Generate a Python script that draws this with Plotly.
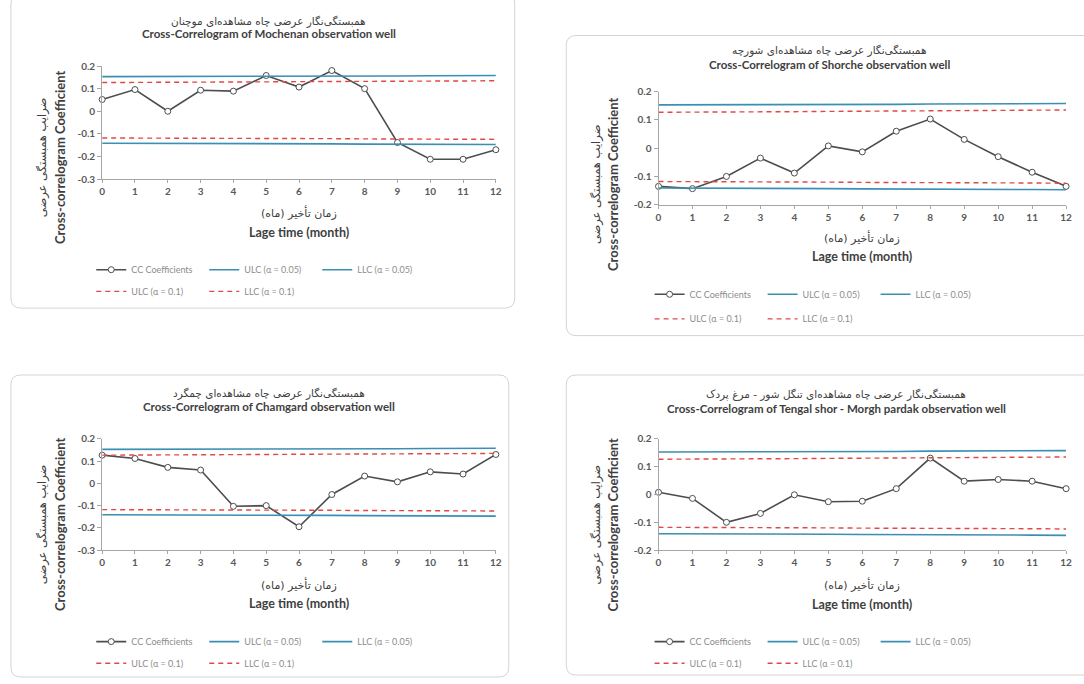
import plotly.graph_objects as go

W, H = 1084, 684

# ---------------- data ----------------
lags = list(range(13))
x_tick_labels = [str(i) for i in lags]

cc_mochenan = [0.052, 0.096, 0.0, 0.093, 0.089, 0.158, 0.107, 0.180, 0.100, -0.138, -0.212, -0.212, -0.170]
cc_shorche = [-0.135, -0.143, -0.100, -0.035, -0.088, 0.008, -0.013, 0.060, 0.103, 0.031, -0.030, -0.085, -0.135]
cc_chamgard = [0.127, 0.112, 0.072, 0.060, -0.103, -0.100, -0.195, -0.050, 0.033, 0.007, 0.052, 0.042, 0.130]
cc_tengal = [0.008, -0.014, -0.100, -0.068, -0.001, -0.026, -0.024, 0.021, 0.131, 0.048, 0.054, 0.048, 0.021]

ulc_005 = [0.153, 0.153, 0.154, 0.154, 0.154, 0.155, 0.155, 0.155, 0.156, 0.156, 0.157, 0.157, 0.158]
llc_005 = [-0.141, -0.141, -0.142, -0.142, -0.143, -0.143, -0.144, -0.144, -0.145, -0.145, -0.146, -0.146, -0.147]
ulc_01 = [0.127, 0.127, 0.128, 0.129, 0.129, 0.130, 0.131, 0.131, 0.132, 0.133, 0.133, 0.134, 0.135]
llc_01 = [-0.118, -0.118, -0.119, -0.119, -0.120, -0.120, -0.121, -0.121, -0.122, -0.122, -0.123, -0.123, -0.124]

yticks_wide = [-0.3, -0.2, -0.1, 0, 0.1, 0.2]
ytext_wide = ["-0.3", "-0.2", "-0.1", "0", "0.1", "0.2"]
yticks_narrow = [-0.2, -0.1, 0, 0.1, 0.2]
ytext_narrow = ["-0.2", "-0.1", "0", "0.1", "0.2"]

series_names = ["CC Coefficients", "ULC (α = 0.05)", "LLC (α = 0.05)", "ULC (α = 0.1)", "LLC (α = 0.1)"]

fa_title_prefix = "همبستگی‌نگار عرضی چاه مشاهده‌ای "
titles_fa = [fa_title_prefix + "موچنان", fa_title_prefix + "شورچه",
             fa_title_prefix + "چمگرد", fa_title_prefix + "تنگل شور - مرغ پردک"]
titles_en = ["Cross-Correlogram of Mochenan observation well",
             "Cross-Correlogram of Shorche observation well",
             "Cross-Correlogram of Chamgard observation well",
             "Cross-Correlogram of Tengal shor - Morgh pardak observation well"]
xtitle_fa = "زمان تأخیر (ماه)"
xtitle_en = "Lage time (month)"
ytitle_fa = "ضرایب همبستگی عرضی"
ytitle_en = "Cross-correlogram Coefficient"

# ---------------- layout geometry (pixels) ----------------
panels = [
    dict(cc=cc_mochenan, yr=[-0.3, 0.2], yt=yticks_wide, ytt=ytext_wide,
         px=(100, 497), py=(61, 176), box=(8, -12, 516, 307),
         tfa=(268, 16), ten=(268, 28), xfa=210, xen=230,
         yfa=40, yen=57, yc=154, leg=(89, 268, 290)),
    dict(cc=cc_shorche, yr=[-0.2, 0.2], yt=yticks_narrow, ytt=ytext_narrow,
         px=(661, 1072), py=(87, 202), box=(568, 30, 1100, 335),
         tfa=(833, 45), ten=(833, 59), xfa=235, xen=255,
         yfa=598, yen=615, yc=181, leg=(652, 293, 318)),
    dict(cc=cc_chamgard, yr=[-0.3, 0.2], yt=yticks_wide, ytt=ytext_wide,
         px=(100, 497), py=(440, 553), box=(8, 375, 510, 682),
         tfa=(268, 394), ten=(268, 407), xfa=588, xen=607,
         yfa=40, yen=57, yc=527, leg=(89, 646, 668)),
    dict(cc=cc_tengal, yr=[-0.2, 0.2], yt=yticks_narrow, ytt=ytext_narrow,
         px=(661, 1072), py=(440, 553), box=(568, 375, 1100, 680),
         tfa=(840, 395), ten=(840, 409), xfa=588, xen=608,
         yfa=598, yen=615, yc=527, leg=(652, 646, 668)),
]

def fx(p):
    return p / W

def fy(p):
    return 1 - p / H

EN_FONT = "Lato, 'Open Sans', sans-serif"
FA_FONT = "'DejaVu Sans', sans-serif"
TXT = "#404040"
GRAY = "#595959"
CC_COLOR = "#4d4d4d"
BLUE = "#3b8fb3"
RED = "#e04848"

fig = go.Figure()
layout = dict(width=W, height=H, margin=dict(l=0, r=0, t=0, b=0),
              paper_bgcolor="white", plot_bgcolor="white", showlegend=True)
annotations = []
shapes = []

def rounded_path(x0, y0, x1, y1, r=10):
    # pixel coords -> paper coords rounded rectangle
    rx, ry = r / W, r / H
    X0, X1 = fx(x0), fx(x1)
    Y0, Y1 = fy(y1), fy(y0)  # bottom, top in paper
    return (f"M{X0+rx},{Y1} L{X1-rx},{Y1} Q{X1},{Y1} {X1},{Y1-ry} "
            f"L{X1},{Y0+ry} Q{X1},{Y0} {X1-rx},{Y0} L{X0+rx},{Y0} "
            f"Q{X0},{Y0} {X0},{Y0+ry} L{X0},{Y1-ry} Q{X0},{Y1} {X0+rx},{Y1} Z")

for i, p in enumerate(panels):
    n = i + 1
    xa = "x" if n == 1 else f"x{n}"
    ya = "y" if n == 1 else f"y{n}"
    xkey = "xaxis" if n == 1 else f"xaxis{n}"
    ykey = "yaxis" if n == 1 else f"yaxis{n}"
    lg1 = "legend" if n == 1 else f"legend{2*n-1}"
    lg2 = f"legend{2*n}"

    # traces
    fig.add_trace(go.Scatter(x=lags, y=p["cc"], xaxis=xa, yaxis=ya, name=series_names[0],
                             mode="lines+markers", cliponaxis=False, legend=lg1,
                             line=dict(color=CC_COLOR, width=1.6),
                             marker=dict(symbol="circle", size=6, color="white",
                                         line=dict(color=CC_COLOR, width=1))))
    fig.add_trace(go.Scatter(x=lags, y=ulc_005, xaxis=xa, yaxis=ya, name=series_names[1],
                             mode="lines", legend=lg1, line=dict(color=BLUE, width=1.6)))
    fig.add_trace(go.Scatter(x=lags, y=llc_005, xaxis=xa, yaxis=ya, name=series_names[2],
                             mode="lines", legend=lg1, line=dict(color=BLUE, width=1.6)))
    fig.add_trace(go.Scatter(x=lags, y=ulc_01, xaxis=xa, yaxis=ya, name=series_names[3],
                             mode="lines", legend=lg2, line=dict(color=RED, width=1.4, dash="5px,4px")))
    fig.add_trace(go.Scatter(x=lags, y=llc_01, xaxis=xa, yaxis=ya, name=series_names[4],
                             mode="lines", legend=lg2, line=dict(color=RED, width=1.4, dash="5px,4px")))

    layout[xkey] = dict(domain=[fx(p["px"][0]), fx(p["px"][1])], range=[0, 12],
                        anchor=ya, tickvals=lags, ticktext=x_tick_labels,
                        showline=True, linecolor="#a6a6a6", linewidth=1,
                        ticks="outside", ticklen=3, tickcolor="#a6a6a6",
                        showgrid=False, zeroline=False,
                        tickfont=dict(family=EN_FONT, size=10, color=GRAY, weight="bold"))
    layout[ykey] = dict(domain=[fy(p["py"][1]), fy(p["py"][0])], range=p["yr"],
                        anchor=xa, tickvals=p["yt"], ticktext=p["ytt"],
                        showline=True, linecolor="#a6a6a6", linewidth=1,
                        ticks="outside", ticklen=4, tickcolor="#a6a6a6",
                        showgrid=False, zeroline=False,
                        tickfont=dict(family=EN_FONT, size=10, color=GRAY, weight="bold"))

    leg_common = dict(orientation="h", xanchor="left", yanchor="middle",
                      bgcolor="rgba(0,0,0,0)", entrywidth=68, entrywidthmode="pixels",
                      font=dict(family=EN_FONT, size=9, color="#8c8c8c"),
                      itemclick=False, itemdoubleclick=False)
    layout[lg1] = dict(x=fx(p["leg"][0]), y=fy(p["leg"][1]), **leg_common)
    layout[lg2] = dict(x=fx(p["leg"][0]), y=fy(p["leg"][2]), **leg_common)

    cx = (p["px"][0] + p["px"][1]) / 2
    annotations += [
        dict(text=titles_fa[i], x=fx(p["tfa"][0]), y=fy(p["tfa"][1]),
             font=dict(family=FA_FONT, size=10.5, color=TXT)),
        dict(text="<b>" + titles_en[i] + "</b>", x=fx(p["ten"][0]), y=fy(p["ten"][1]),
             font=dict(family=EN_FONT, size=11.5, color=TXT)),
        dict(text=xtitle_fa, x=fx(cx), y=fy(p["xfa"]),
             font=dict(family=FA_FONT, size=11, color=TXT)),
        dict(text="<b>" + xtitle_en + "</b>", x=fx(cx), y=fy(p["xen"]),
             font=dict(family=EN_FONT, size=12.5, color=TXT)),
        dict(text=ytitle_fa, x=fx(p["yfa"]), y=fy(p["yc"]), textangle=-90,
             font=dict(family=FA_FONT, size=11.5, color=TXT)),
        dict(text="<b>" + ytitle_en + "</b>", x=fx(p["yen"]), y=fy(p["yc"]), textangle=-90,
             font=dict(family=EN_FONT, size=13, color=TXT)),
    ]
    b = p["box"]
    shapes.append(dict(type="path", xref="paper", yref="paper",
                       path=rounded_path(*b), line=dict(color="#d4d4d4", width=1),
                       fillcolor="rgba(0,0,0,0)", layer="below"))

for a in annotations:
    a.update(xref="paper", yref="paper", showarrow=False, xanchor="center", yanchor="middle")

layout["annotations"] = annotations
layout["shapes"] = shapes
fig.update_layout(**layout)
fig.write_html("out.html", config={"displayModeBar": False},
               post_script="document.body.style.margin='0';document.body.style.overflow='hidden';")
